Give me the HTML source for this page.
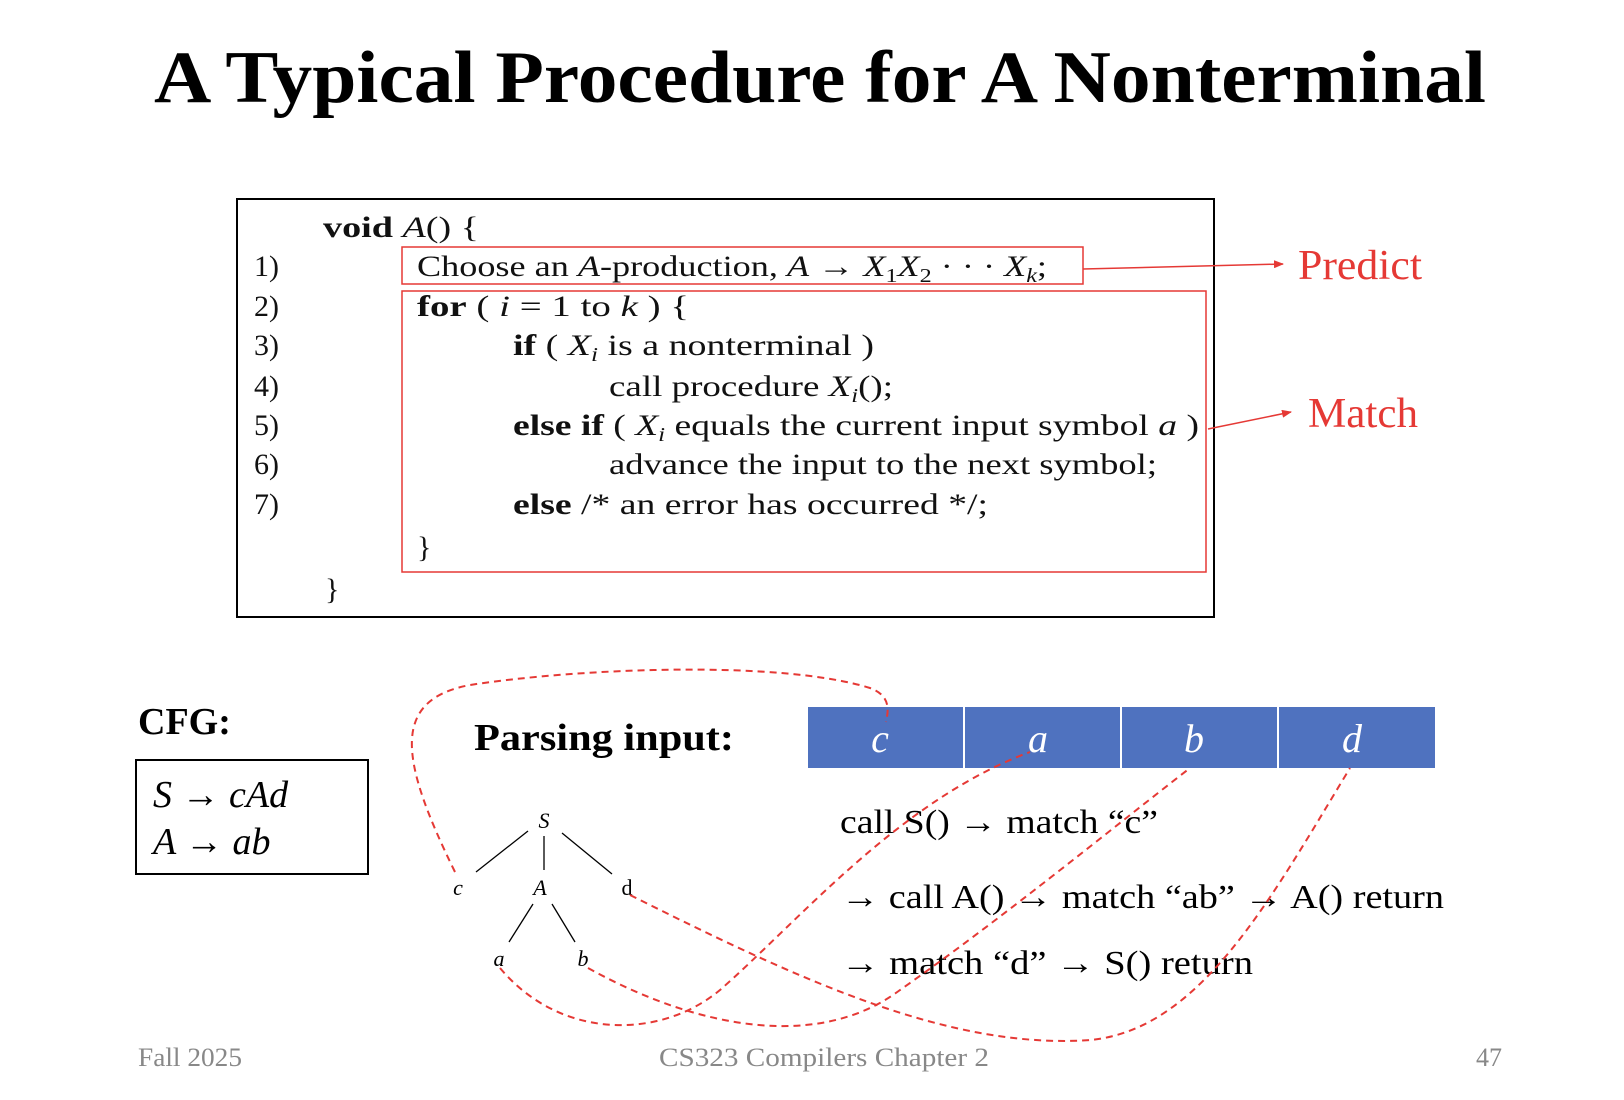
<!DOCTYPE html>
<html><head><meta charset="utf-8"><style>
html,body{margin:0;padding:0;background:#fff;}
svg{display:block}
</style></head><body>
<svg width="1624" height="1100" viewBox="0 0 1624 1100" xmlns="http://www.w3.org/2000/svg">
<text x="820" y="102" text-anchor="middle" font-family="Liberation Serif, serif" font-weight="bold" font-size="74" textLength="1332" lengthAdjust="spacingAndGlyphs">A Typical Procedure for A Nonterminal</text>

<rect x="237" y="199" width="977" height="418" fill="none" stroke="#000" stroke-width="2"/>
<rect x="402" y="247" width="681" height="37" fill="none" stroke="#e53935" stroke-width="1.5"/>
<rect x="402" y="291" width="804" height="281" fill="none" stroke="#e53935" stroke-width="1.5"/>

<g font-family="Liberation Serif, serif" font-size="30" fill="#111">
<text x="323" y="237" textLength="156" lengthAdjust="spacingAndGlyphs"><tspan font-weight="bold">void</tspan> <tspan font-style="italic">A</tspan>() {</text>
<text x="254" y="276">1)</text>
<text x="254" y="316">2)</text>
<text x="254" y="355">3)</text>
<text x="254" y="396">4)</text>
<text x="254" y="435">5)</text>
<text x="254" y="474">6)</text>
<text x="254" y="514">7)</text>
<text x="417" y="276" textLength="630" lengthAdjust="spacingAndGlyphs">Choose an <tspan font-style="italic">A</tspan>-production, <tspan font-style="italic">A</tspan> → <tspan font-style="italic">X</tspan><tspan font-size="20" dy="6">1</tspan><tspan font-style="italic" dy="-6">X</tspan><tspan font-size="20" dy="6">2</tspan><tspan dy="-6"> · · · </tspan><tspan font-style="italic">X</tspan><tspan font-size="20" font-style="italic" dy="6">k</tspan><tspan dy="-6">;</tspan></text>
<text x="417" y="316" textLength="272" lengthAdjust="spacingAndGlyphs"><tspan font-weight="bold">for</tspan> ( <tspan font-style="italic">i</tspan> = 1 to <tspan font-style="italic">k</tspan> ) {</text>
<text x="513" y="355" textLength="361" lengthAdjust="spacingAndGlyphs"><tspan font-weight="bold">if</tspan> ( <tspan font-style="italic">X</tspan><tspan font-size="20" font-style="italic" dy="6">i</tspan><tspan dy="-6"> is a nonterminal )</tspan></text>
<text x="609" y="396" textLength="284" lengthAdjust="spacingAndGlyphs">call procedure <tspan font-style="italic">X</tspan><tspan font-size="20" font-style="italic" dy="6">i</tspan><tspan dy="-6">();</tspan></text>
<text x="513" y="435" textLength="686" lengthAdjust="spacingAndGlyphs"><tspan font-weight="bold">else if</tspan> ( <tspan font-style="italic">X</tspan><tspan font-size="20" font-style="italic" dy="6">i</tspan><tspan dy="-6"> equals the current input symbol </tspan><tspan font-style="italic">a</tspan> )</text>
<text x="609" y="474" textLength="548" lengthAdjust="spacingAndGlyphs">advance the input to the next symbol;</text>
<text x="513" y="514" textLength="475" lengthAdjust="spacingAndGlyphs"><tspan font-weight="bold">else</tspan> /* an error has occurred */;</text>
<text x="417" y="557">}</text>
<text x="325" y="599">}</text>
</g>

<defs><marker id="ar" markerWidth="10" markerHeight="8" refX="9" refY="4" orient="auto" markerUnits="userSpaceOnUse"><path d="M0,0 L10,4 L0,8z" fill="#e53935"/></marker></defs>
<line x1="1083" y1="269" x2="1283" y2="264" stroke="#e53935" stroke-width="1.5" marker-end="url(#ar)"/>
<line x1="1208" y1="429" x2="1291" y2="412" stroke="#e53935" stroke-width="1.5" marker-end="url(#ar)"/>
<text x="1298" y="279" font-family="Liberation Serif, serif" font-size="42" fill="#e53935" textLength="124" lengthAdjust="spacingAndGlyphs">Predict</text>
<text x="1308" y="427" font-family="Liberation Serif, serif" font-size="42" fill="#e53935" textLength="110" lengthAdjust="spacingAndGlyphs">Match</text>

<text x="138" y="734" font-family="Liberation Serif, serif" font-weight="bold" font-size="38">CFG:</text>
<rect x="136" y="760" width="232" height="114" fill="none" stroke="#000" stroke-width="2"/>
<text x="153" y="807" font-family="Liberation Serif, serif" font-style="italic" font-size="38">S → cAd</text>
<text x="153" y="854" font-family="Liberation Serif, serif" font-style="italic" font-size="38">A → ab</text>

<text x="474" y="750" font-family="Liberation Serif, serif" font-weight="bold" font-size="38" textLength="260" lengthAdjust="spacingAndGlyphs">Parsing input:</text>

<rect x="808" y="707" width="627" height="61" fill="#4f72bf"/>
<line x1="964" y1="707" x2="964" y2="768" stroke="#fff" stroke-width="2"/>
<line x1="1121" y1="707" x2="1121" y2="768" stroke="#fff" stroke-width="2"/>
<line x1="1278" y1="707" x2="1278" y2="768" stroke="#fff" stroke-width="2"/>
<g font-family="Liberation Serif, serif" font-style="italic" font-size="40" fill="#fff" text-anchor="middle">
<text x="880" y="752">c</text><text x="1038" y="752">a</text><text x="1194" y="752">b</text><text x="1352" y="752">d</text>
</g>

<g font-family="Liberation Serif, serif" font-size="34" fill="#000">
<text x="840" y="833" textLength="318" lengthAdjust="spacingAndGlyphs">call S() → match “c”</text>
<text x="841" y="908" textLength="603" lengthAdjust="spacingAndGlyphs">→ call A() → match “ab” → A() return</text>
<text x="841" y="974" textLength="412" lengthAdjust="spacingAndGlyphs">→ match “d” → S() return</text>
</g>

<g font-family="Liberation Serif, serif" font-style="italic" font-size="22" text-anchor="middle">
<text x="544" y="828">S</text><text x="458" y="895">c</text><text x="540" y="895">A</text>
<text x="627" y="895" font-style="normal">d</text><text x="499" y="966">a</text><text x="583" y="966">b</text>
</g>
<g stroke="#000" stroke-width="1.3">
<line x1="528" y1="831" x2="476" y2="872"/><line x1="544" y1="836" x2="544" y2="870"/>
<line x1="562" y1="833" x2="612" y2="874"/><line x1="533" y1="904" x2="509" y2="942"/>
<line x1="552" y1="904" x2="575" y2="942"/>
</g>

<g fill="none" stroke="#e53935" stroke-width="2" stroke-dasharray="7,5">
<path d="M455,872 C400,760 390,700 470,685 C580,668 780,660 870,688 C892,696 888,712 886,722"/>
<path d="M500,968 C560,1040 660,1040 720,990 C800,920 900,800 1030,752"/>
<path d="M588,968 C700,1030 820,1050 900,990 C1000,920 1110,830 1190,768"/>
<path d="M630,895 C800,980 950,1050 1090,1040 C1200,1030 1270,900 1350,768"/>
</g>

<g font-family="Liberation Serif, serif" font-size="26" fill="#888">
<text x="138" y="1066" textLength="104" lengthAdjust="spacingAndGlyphs">Fall 2025</text>
<text x="824" y="1066" text-anchor="middle" textLength="330" lengthAdjust="spacingAndGlyphs">CS323 Compilers Chapter 2</text>
<text x="1502" y="1066" text-anchor="end">47</text>
</g>
</svg>
</body></html>
